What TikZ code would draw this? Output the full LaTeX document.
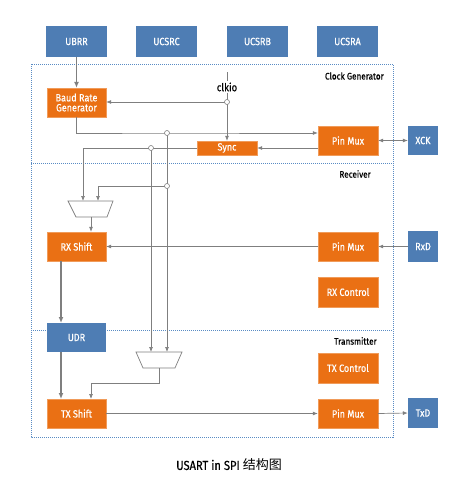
\documentclass[tikz,border=0pt]{standalone}
\usepackage{fontspec}
\setmainfont{Fira Sans}[FakeStretch=0.86, FakeBold=0.5]
\newfontfamily\cjk{Noto Sans CJK SC}
\usetikzlibrary{arrows.meta}
\definecolor{orng}{HTML}{EA7014}
\definecolor{blu}{HTML}{4E7DB4}
\definecolor{frm}{HTML}{5A8CC4}
\definecolor{wire}{HTML}{7F7F7F}
\tikzset{
  obox/.style={fill=orng, draw=orng!70!white, line width=0.4pt, text=white, inner sep=0pt, minimum width=59pt, minimum height=29pt, font=\fontsize{10.5}{11}\selectfont, align=center},
  bbox/.style={fill=blu, text=white, inner sep=0pt, minimum width=61pt, minimum height=31pt, font=\fontsize{10.5}{11}\selectfont},
  pbox/.style={fill=blu, text=white, inner sep=0pt, minimum width=30pt, minimum height=30pt, font=\fontsize{10.5}{11}\selectfont},
  wr/.style={draw=wire, line width=0.7pt},
  arr/.style={wr, -{Latex[length=5pt,width=4pt]}},
  tarr/.style={draw=wire, line width=1.3pt, -{Latex[length=6pt,width=5pt]}},
  jn/.style={circle, draw=wire, fill=white, line width=0.6pt, inner sep=0pt, minimum size=5pt},
  sect/.style={font=\fontsize{9.5}{10}\selectfont, anchor=east, inner sep=0pt},
  muxs/.style={draw=wire, line width=0.7pt, fill=white},
  frame/.style={draw=frm, line width=0.9pt, dash pattern=on 1pt off 1pt}
}
\begin{document}
\begin{tikzpicture}[x=1pt,y=-1pt]
\useasboundingbox (0,0) rectangle (462,477);
% frame
\draw[frame] (31,64) rectangle (393,437);
\draw[frame] (31,163) -- (393,163);
\draw[frame] (31,330) -- (393,330);
\node[sect] (lcg) at (384,76) {Clock Generator};
\node[sect] (lrx) at (371,174) {Receiver};
\node[sect] (ltx) at (377,341) {Transmitter};
% registers
\node[bbox] (ubrr) at (76.5,41.5) {UBRR};
\node[bbox] (ucsrc) at (166.5,41.5) {UCSRC};
\node[bbox] (ucsrb) at (257.5,41.5) {UCSRB};
\node[bbox] (ucsra) at (347.5,41.5) {UCSRA};
% clock generator
\node[obox] (brg) at (76.5,102.5) {Baud Rate\\[-1pt]Generator};
\node[obox, minimum width=60pt, minimum height=14pt] (sync) at (227,148) {Sync};
\node[obox, minimum width=60pt] (pmc) at (348,140.5) {Pin Mux};
\node[pbox, minimum height=29pt] (xck) at (423,140.5) {XCK};
% receiver
\node[obox] (rxs) at (76.5,246.5) {RX Shift};
\node[obox, minimum width=60pt] (pmr) at (348,246.5) {Pin Mux};
\node[pbox, minimum height=31pt] (rxd) at (423,246.5) {RxD};
\node[obox, minimum width=60pt, minimum height=30pt] (rxc) at (348,292) {RX Control};
% transmitter
\node[bbox, minimum width=59pt, minimum height=29pt] (udr) at (76.5,337.5) {UDR};
\node[obox, minimum width=60pt, minimum height=30pt] (txc) at (348,368) {TX Control};
\node[obox] (txs) at (76.5,413.5) {TX Shift};
\node[obox, minimum width=60pt] (pmt) at (348,413.5) {Pin Mux};
\node[pbox] (txd) at (423,413) {TxD};
% muxes
\draw[muxs] (68,201) -- (113,201) -- (107,217) -- (76,217) -- cycle;
\draw[muxs] (136,352) -- (182,352) -- (175,368) -- (143,368) -- cycle;
\coordinate (m1a) at (83,201);
\coordinate (m1b) at (98,201);
\coordinate (m1o) at (91,217);
\coordinate (m2a) at (151,352);
\coordinate (m2b) at (167,352);
\coordinate (m2o) at (159,368);
% junctions
\coordinate (j1) at (227,102);
\coordinate (j2) at (167,133);
\coordinate (j3) at (151,148);
\coordinate (j4) at (167,186);
\coordinate (clktop) at (227,72);
\node[font=\fontsize{11}{12}\selectfont, inner sep=1pt, fill=white] (clk) at (227,87) {clkio};
% wires
\draw[wr] (clktop) -- (clk.north);
\draw[wr] (clk.south) -- (j1);
\draw[arr] (j1) -- (j1 -| brg.east);
\draw[arr] (j1) -- (j1 |- sync.north);
\draw[arr] (brg.south) |- (j2) -- (j2 -| pmc.west);
\draw[arr] (sync.east -| pmc.west) -- (sync.east);
\draw[arr] (sync.west) -| (m1a);
\draw[arr] (j3) -- (m2a);
\draw[arr] (j2) -- (m2b);
\draw[arr] (j4) -| (m1b);
\draw[arr] (m1o) -- (m1o |- rxs.north);
\draw[arr] (pmr.west) -- (rxs.east);
\draw[arr] (rxd.west) -- (pmr.east);
\draw[arr] (m2o) |- (91,383) -- (91,399);
\draw[arr] (txs.east) -- (pmt.west);
\draw[arr] (pmt.east) -- (txd.west);
\draw[wr, {Latex[length=5pt,width=4pt]}-{Latex[length=5pt,width=4pt]}] (pmc.east) -- (xck.west);
\draw[tarr] (ubrr.south) -- (brg.north);
\draw[tarr] (61,261) -- (61,323);
\draw[tarr] (61,352) -- (61,399);
% junction circles
\node[jn] (c1) at (j1) {};
\node[jn] (c2) at (j2) {};
\node[jn] (c3) at (j3) {};
\node[jn] (c4) at (j4) {};
% caption
\node[font=\fontsize{13}{14}\selectfont] (cap) at (229,465) {USART in SPI {\cjk 结构图}};
\end{tikzpicture}
\end{document}
